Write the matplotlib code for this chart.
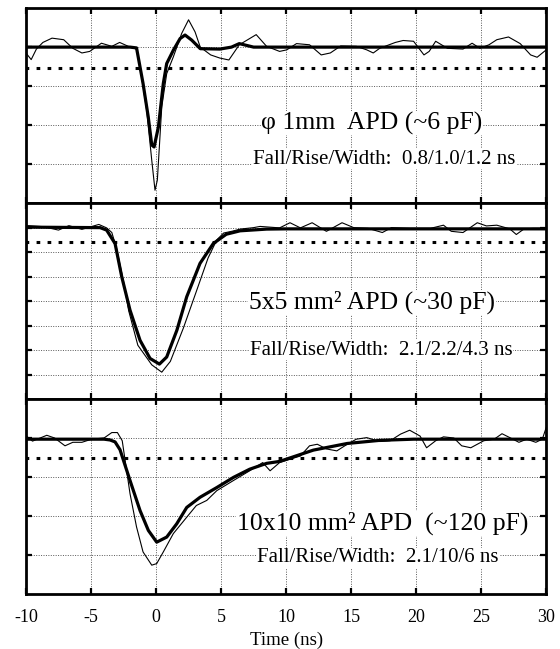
import numpy as np
import matplotlib
matplotlib.use("Agg")
import matplotlib.pyplot as plt

plt.rcParams['font.family'] = ['Liberation Serif', 'DejaVu Serif']
plt.rcParams['axes.unicode_minus'] = False

## panel 1 : phi 1mm APD
t1_thick = [-10, -2.0, -1.5, -1.0, -0.6, -0.33, -0.15, 0.18, 0.56, 0.82, 1.33, 1.85, 2.23, 2.74, 3.4, 4.9, 5.8, 6.4, 7.5, 10, 30]
v1_thick = [4.0, 4.0, 3.98, 3.07, 2.21, 1.49, 1.44, 1.95, 3.07, 3.58, 3.92, 4.22, 4.31, 4.18, 3.96, 3.95, 4.0, 4.09, 4.0, 4.0, 4.0]
t1_thin = [-10, -9.6, -9.2, -8.7, -8.0, -7.1, -6.4, -5.7, -5.1, -4.2, -3.4, -2.8, -2.0, -1.5, -1.23, -1.0, -0.72, -0.33, -0.08, 0.1,
           0.44, 0.82, 1.33, 1.97, 2.5, 3.0, 3.4, 4.2, 4.9, 5.6, 6.4, 7.7, 8.5, 9.5, 10.05, 10.8, 11.8, 12.7, 13.4, 14.2,
           15.4, 16.2, 16.7, 17.2, 18.4, 19.0, 19.8, 20.6, 21.0, 21.5, 21.8, 22.4, 23.6, 24.3, 24.9, 25.6, 26.2, 27.1, 28.0, 28.8,
           29.3, 30.0]
v1_thin = [3.85, 3.68, 3.95, 4.12, 4.23, 4.19, 3.97, 3.85, 3.89, 4.1, 4.02, 4.12, 4.0, 3.95, 3.5, 3.0, 2.38, 1.1, 0.33, 0.59,
           2.47, 3.32, 3.75, 4.35, 4.7, 4.39, 4.0, 3.8, 3.72, 3.67, 4.06, 4.32, 4.02, 3.89, 3.93, 4.09, 4.06, 3.8, 3.85, 4.03,
           4.02, 3.93, 3.85, 3.97, 4.12, 4.17, 4.15, 3.8, 3.89, 4.15, 4.09, 3.97, 3.95, 4.1, 3.97, 4.06, 4.19, 4.26, 4.09, 3.8,
           3.74, 3.93]
thr1 = 3.46

## panel 2 : 5x5 mm2 APD
t2_thick = [-10, -4.3, -3.8, -3.15, -2.64, -2.0, -1.23, -0.46, 0.26, 0.82, 1.6, 2.36, 3.38, 4.4, 5.4, 6.46, 8.5, 10, 30]
v2_thick = [7.02, 7.0, 6.9, 6.35, 5.0, 3.63, 2.4, 1.66, 1.43, 1.72, 2.81, 4.18, 5.54, 6.35, 6.73, 6.87, 6.94, 6.95, 6.95]
t2_thin = [-10, -9.8, -8.7, -7.5, -6.7, -5.7, -4.4, -3.8, -3.4, -3.03, -2.5, -2.1, -1.4, -0.33, 0.44, 1.1, 2.1, 3.1, 4.0, 4.67,
           5.2, 5.9, 6.46, 7.5, 8.0, 9.5, 10.3, 11.1, 12.0, 13.1, 14.3, 15.2, 16.3, 17.4, 18.1, 19.5, 21.1, 22.1, 22.7, 23.6,
           24.7, 25.4, 26.2, 27.2, 27.7, 28.3, 29.0, 30]
v2_thin = [7.05, 7.08, 7.04, 6.9, 7.08, 6.93, 7.13, 6.99, 6.8, 6.14, 4.8, 3.6, 2.2, 1.4, 1.1, 1.54, 2.9, 4.4, 5.76, 6.5,
           6.78, 6.86, 6.94, 7.0, 7.05, 6.99, 7.2, 6.99, 7.2, 6.85, 7.2, 7.0, 6.97, 6.8, 7.0, 6.97, 6.97, 7.1, 6.85, 6.8,
           7.2, 7.07, 7.1, 6.95, 6.72, 6.95, 6.97, 6.97]
thr2 = 6.4

## panel 3 : 10x10 mm2 APD
t3_thick = [-10, -4.0, -3.54, -3.15, -2.77, -2.0, -1.23, -0.59, 0.05, 0.82, 1.59, 2.36, 3.38, 4.67, 5.95, 7.2, 8.5, 9.5,
            12.1, 14.7, 17.2, 19.8, 30]
v3_thick = [3.97, 3.97, 3.95, 3.9, 3.7, 2.91, 2.14, 1.63, 1.33, 1.46, 1.8, 2.22, 2.48, 2.73, 2.99, 3.2, 3.35, 3.4,
            3.69, 3.86, 3.94, 3.97, 3.97]
t3_thin = [-10, -9.5, -8.4, -7.8, -7.0, -6.4, -5.7, -4.95, -4.0, -3.4, -2.97, -2.6, -2.0, -1.5, -1.0, -0.33, 0.05, 0.56, 1.33, 2.36,
           3.1, 3.9, 4.67, 5.95, 7.2, 8.2, 8.77, 9.5, 11.1, 11.8, 12.4, 13.1, 13.9, 14.7, 15.4, 16.2, 17.2, 18.0, 18.8, 19.5,
           20.3, 20.8, 21.5, 22.1, 22.9, 23.5, 24.2, 25.2, 26.0, 26.6, 27.2, 27.9, 28.5, 29.2, 29.7, 30.0]
v3_thin = [4.06, 3.92, 4.07, 4.0, 3.8, 3.89, 3.89, 3.97, 4.0, 4.14, 4.14, 3.93, 2.57, 1.72, 1.08, 0.74, 0.78, 1.08, 1.55, 1.97,
           2.27, 2.4, 2.65, 2.91, 3.16, 3.37, 3.16, 3.37, 3.54, 3.8, 3.84, 3.72, 3.67, 3.84, 3.97, 4.01, 3.91, 3.93, 4.1, 4.2,
           4.05, 3.75, 3.93, 4.03, 4.0, 3.8, 3.75, 3.93, 3.97, 4.11, 4.01, 3.89, 3.97, 3.89, 3.97, 4.27]
thr3 = 3.5

labels = [u"\u03c6 1mm  APD (~6 pF)", u"5x5 mm\u00b2 APD (~30 pF)", u"10x10 mm\u00b2 APD  (~120 pF)"]
sublabels = ["Fall/Rise/Width:  0.8/1.0/1.2 ns", "Fall/Rise/Width:  2.1/2.2/4.3 ns", "Fall/Rise/Width:  2.1/10/6 ns"]
xticks = [-10, -5, 0, 5, 10, 15, 20, 25, 30]

fig = plt.figure(figsize=(5.6, 6.49), dpi=100)
ax_pos = [[0.0464, 0.687, 0.929, 0.3005], [0.0464, 0.385, 0.929, 0.302], [0.0464, 0.0847, 0.929, 0.3005]]
ymax = [5, 8, 5]
lab_pos = [[(0.665, 0.41), (0.688, 0.226)], [(0.665, 0.495), (0.683, 0.25)], [(0.686, 0.364), (0.676, 0.185)]]

panels = [(t1_thick, v1_thick, t1_thin, v1_thin, thr1),
          (t2_thick, v2_thick, t2_thin, v2_thin, thr2),
          (t3_thick, v3_thick, t3_thin, v3_thin, thr3)]

for i, (tk, vk, tn, vn, thr) in enumerate(panels):
    ax = fig.add_axes(ax_pos[i])
    ax.plot(tn, vn, color="black", lw=0.8, zorder=3)
    ax.plot(tk, vk, color="black", lw=2.3, zorder=4, solid_joinstyle="round")
    ax.axhline(thr, color="black", lw=2.2, linestyle=(0.3, (1.2, 2.4)), dash_capstyle="butt", zorder=2)
    ax.set_xlim(-10, 30)
    ax.set_ylim(0, ymax[i])
    ax.set_xticks(xticks)
    ax.set_yticks(range(1, ymax[i]))
    ax.grid(True, color="0.35", linestyle=(0, (1, 1.5)), lw=0.7)
    ax.tick_params(direction="in", length=4.5, width=1.6, top=True, right=True, labelleft=False)
    for s in ax.spines.values():
        s.set_linewidth(2.0)
    if i < 2:
        ax.tick_params(labelbottom=False)
    else:
        ax.tick_params(labelsize=13, pad=11)
        ax.set_xlabel("Time (ns)", fontsize=13.5, labelpad=4)
    (x1, y1), (x2, y2) = lab_pos[i]
    ax.text(x1, y1, labels[i], transform=ax.transAxes, ha="center", va="center", fontsize=18.5, zorder=5,
            bbox=dict(facecolor="white", edgecolor="none", pad=0.5))
    ax.text(x2, y2, sublabels[i], transform=ax.transAxes, ha="center", va="center", fontsize=15, zorder=5,
            bbox=dict(facecolor="white", edgecolor="none", pad=0.5))

plt.savefig("out.png", dpi=100)
